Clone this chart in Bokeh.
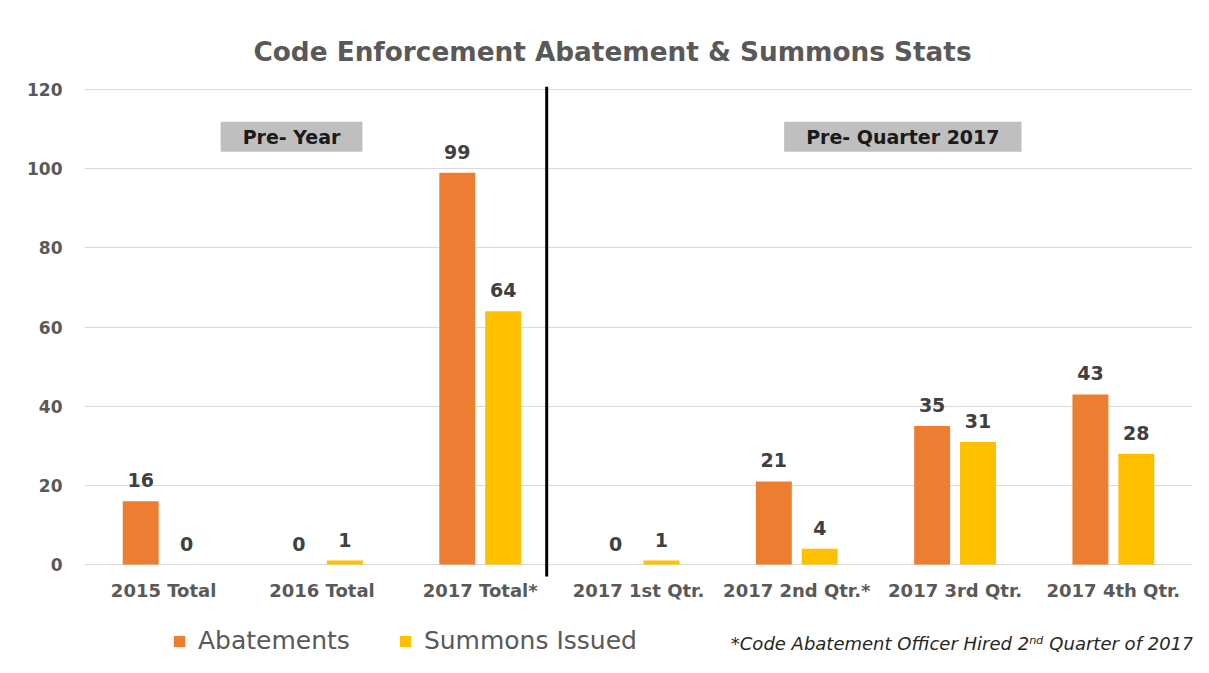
from bokeh.plotting import figure
from bokeh.models import (ColumnDataSource, FactorRange, Label, LabelSet,
                          Legend, LegendItem, FixedTicker)
from bokeh.core.properties import value
from bokeh.transform import dodge
from bokeh.embed import file_html
from bokeh.resources import INLINE

categories = ["2015 Total", "2016 Total", "2017 Total*", "2017 1st Qtr.",
              "2017 2nd Qtr.*", "2017 3rd Qtr.", "2017 4th Qtr."]
abatements = [16, 0, 99, 0, 21, 35, 43]
summons = [0, 1, 64, 1, 4, 31, 28]
y_ticks = [0, 20, 40, 60, 80, 100, 120]

ORANGE = "#ED7D31"
YELLOW = "#FFC000"
GRAY_TXT = "#595959"
FONT = "DejaVu Sans"

source = ColumnDataSource(dict(
    cat=categories,
    base=[0] * len(categories),
    ab=abatements,
    su=summons,
    ab_txt=[str(v) for v in abatements],
    su_txt=[str(v) for v in summons],
))

p = figure(x_range=FactorRange(factors=categories), y_range=(-25.5, 120.8),
           width=1201, height=665, output_backend="svg", toolbar_location=None,
           min_border_left=84, min_border_right=9, min_border_top=86, min_border_bottom=0,
           title="Code Enforcement Abatement & Summons Stats")

p.title.align = "left"
p.title.offset = 169
p.title.text_font = FONT
p.title.text_font_size = "26.3px"
p.title.text_font_style = "bold"
p.title.text_color = GRAY_TXT
p.title.standoff = 39

p.outline_line_color = None
p.background_fill_color = "white"
p.border_fill_color = "white"

r_ab = p.vbar(x=dodge("cat", -0.145, range=p.x_range), top="ab", width=0.227,
              source=source, fill_color=ORANGE, line_color=None)
r_su = p.vbar(x=dodge("cat", 0.145, range=p.x_range), top="su", width=0.227,
              source=source, fill_color=YELLOW, line_color=None)

for col, txt, off in (("ab", "ab_txt", -0.145), ("su", "su_txt", 0.145)):
    p.add_layout(LabelSet(x=dodge("cat", off, range=p.x_range), y=col, text=txt,
                          source=source, y_offset=14, text_align="center",
                          text_baseline="bottom", text_font=value(FONT),
                          text_font_size=value("19px"), text_font_style=value("bold"),
                          text_color=value("#404040")))

# category labels (drawn under the zero line)
p.add_layout(LabelSet(x="cat", y="base", text="cat", source=source, y_offset=-26,
                      text_align="center", text_baseline="middle",
                      text_font=value(FONT), text_font_size=value("18px"),
                      text_font_style=value("bold"), text_color=value(GRAY_TXT)))

# divider between yearly and quarterly sections
DIVIDER_X = 2.92
p.segment(x0=[DIVIDER_X], y0=[-3], x1=[DIVIDER_X], y1=[120.8],
          line_color="black", line_width=3)

# section labels
for x_pos, txt in ((1.308, "Pre- Year"), (5.17, "Pre- Quarter 2017")):
    p.add_layout(Label(x=x_pos, y=108.1, text=txt, text_align="center",
                       text_baseline="middle", text_font=FONT, text_font_size="19px",
                       text_font_style="bold", text_color="#1a1a1a",
                       background_fill_color="#bfbfbf", padding=dict(x=22, y=4)))

# axes
p.yaxis.ticker = FixedTicker(ticks=y_ticks)
p.yaxis.axis_line_color = None
p.yaxis.major_tick_line_color = None
p.yaxis.major_tick_out = 0
p.yaxis.minor_tick_line_color = None
p.yaxis.major_label_standoff = 22
p.yaxis.major_label_text_font = FONT
p.yaxis.major_label_text_font_size = "17px"
p.yaxis.major_label_text_font_style = "bold"
p.yaxis.major_label_text_color = GRAY_TXT

p.xaxis.visible = False

p.xgrid.grid_line_color = None
p.ygrid.grid_line_color = "#d9d9d9"
p.ygrid.ticker = FixedTicker(ticks=y_ticks)

legend = Legend(items=[LegendItem(label="Abatements", renderers=[r_ab]),
                       LegendItem(label="Summons Issued", renderers=[r_su])],
                orientation="horizontal", location=(88, 10),
                label_text_font=FONT, label_text_font_size="25px",
                label_text_color=GRAY_TXT, glyph_width=14, glyph_height=14,
                label_standoff=12, spacing=48, padding=0, margin=0,
                border_line_color=None, background_fill_alpha=0)
p.add_layout(legend, "center")

p.add_layout(Label(x=1109, y=22, x_units="screen", y_units="screen",
                   text="*Code Abatement Officer Hired 2\u207f\u1d48 Quarter of 2017",
                   text_align="right", text_baseline="middle", text_font=FONT,
                   text_font_size="18px", text_font_style="italic",
                   text_color="#262626"))

open("out.html", "w").write(file_html(p, INLINE))
